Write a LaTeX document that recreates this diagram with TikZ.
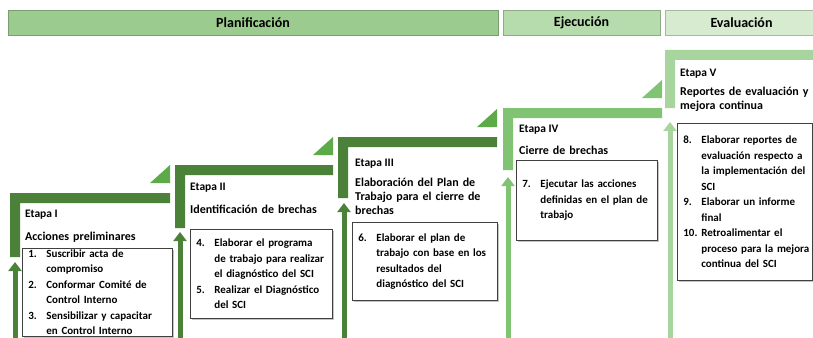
\documentclass[tikz,border=0pt]{standalone}
\usepackage{fontspec}
\setmainfont{Carlito}
\usetikzlibrary{arrows.meta, positioning, shadows}

\definecolor{verdeA}{HTML}{4B8139} % bars of the first three steps
\definecolor{verdeB}{HTML}{5DAA49} % wedges of the first three steps
\definecolor{verdeC}{HTML}{80C473} % step IV
\definecolor{verdeD}{HTML}{A8D49E} % step V
\definecolor{planif}{HTML}{9BCB8E}
\definecolor{ejec}{HTML}{B6DBAC}
\definecolor{evalu}{HTML}{D6EBD0}

\tikzset{
        x=1pt, y=-1pt, % one unit is one pixel of the sketch, y runs down
        fase/.style={draw=#1!78!black, line width=0.8pt, fill=#1, minimum height=25pt, inner sep=0pt,
          font=\fontsize{14}{16}\selectfont\bfseries}, % phase banners on top
        etiqueta/.style={anchor=base west, inner sep=0pt, font=\fontsize{11.5}{13}\selectfont\bfseries},
        subtitulo/.style={anchor=base west, inner sep=0pt, text width=140pt, align=left,
          font=\fontsize{12}{14}\selectfont\bfseries},
        tareas/.style={draw=black!75, line width=0.8pt, fill=white, anchor=north west, align=left,
          inner xsep=6pt, inner ysep=0pt, drop shadow={shadow xshift=1.2pt, shadow yshift=-1.2pt, fill=black!45},
          font=\fontsize{11}{15.5}\selectfont\bfseries}, % boxes with the activities
        flecha/.style={line width=5pt, -{Triangle[width=13pt,length=9pt]}},
    }

% one step: left, top, right, bottom of the post, colour
\newcommand{\escalon}[5]{%
  \fill[#5] (#1,#2) -- (#3,#2) -- (#3,#2+10) -- (#1+10,#2+10) -- (#1+10,#4) -- (#1,#4) -- cycle;}
% wedge over the right end of a step: right, top, colour
\newcommand{\cuna}[3]{%
  \fill[#3] (#1-20,#2-10) -- (#1,#2-10) -- (#1,#2-28) -- cycle;}
\newcommand{\nro}[2]{\makebox[18pt][l]{#1}\mbox{#2}} % numbered line of a box
\newcommand{\sangria}[1]{\hspace*{18pt}\mbox{#1}}   % following line, indented

\begin{document}
\begin{tikzpicture}
    \useasboundingbox (0,0) rectangle (813,337);
    \clip (0,0) rectangle (813,337);

    \node[fase=planif, minimum width=490pt] (planificacion) at (253,22.5) {Planificación};
    \node[fase=ejec, minimum width=157pt] (ejecucion) at (581.5,22.5) {Ejecución};
    \node[fase=evalu, minimum width=153pt] (evaluacion) at (741.5,22.5) {Evaluación};

    \escalon{10}{193}{170}{257}{verdeA} \cuna{170}{193}{verdeB}
    \escalon{175}{165}{333}{228}{verdeA} \cuna{333}{165}{verdeB}
    \escalon{338}{137}{497}{198}{verdeA} \cuna{497}{137}{verdeB}
    \escalon{503}{108}{662}{170}{verdeC} \cuna{662}{108}{verdeC}
    \escalon{665}{50}{813}{108}{verdeD}

    \coordinate (pie1) at (15,345);  \coordinate (punta1) at (15,262);
    \coordinate (pie2) at (180,345); \coordinate (punta2) at (180,232);
    \coordinate (pie3) at (344,345); \coordinate (punta3) at (344,203);
    \coordinate (pie4) at (508,345); \coordinate (punta4) at (508,177);
    \coordinate (pie5) at (670,345); \coordinate (punta5) at (670,122);
    \draw[flecha, verdeA] (pie1) -- (punta1);
    \draw[flecha, verdeA] (pie2) -- (punta2);
    \draw[flecha, verdeA] (pie3) -- (punta3);
    \draw[flecha, verdeC] (pie4) -- (punta4);
    \draw[flecha, verdeD] (pie5) -- (punta5);

    % Etapa I
    \node[etiqueta] (etapa1) at (25,217) {Etapa I};
    \node[subtitulo] (nombre1) at (25,240) {Acciones preliminares};
    \node[tareas, text width=138pt, minimum height=88pt] (tareas1) at (22,248)
      {\nro{1.}{Suscribir acta de}\\\sangria{compromiso}\\\nro{2.}{Conformar Comité de}\\\sangria{Control Interno}\\
       \nro{3.}{Sensibilizar y capacitar}\\\sangria{en Control Interno}};
    % Etapa II
    \node[etiqueta] (etapa2) at (190,190) {Etapa II};
    \node[subtitulo] (nombre2) at (190,213) {Identificación de brechas};
    \node[tareas, text width=130pt, minimum height=89pt] (tareas2) at (190,229)
      {\nro{4.}{Elaborar el programa}\\\sangria{de trabajo para realizar}\\\sangria{el diagnóstico del SCI}\\
       \nro{5.}{Realizar el Diagnóstico}\\\sangria{del SCI}};
    % Etapa III
    \node[etiqueta] (etapa3) at (355,166) {Etapa III};
    \node[subtitulo] (nombre3) at (355,186) {Elaboración del Plan de\\Trabajo para el cierre de\\brechas};
    \node[tareas, text width=133pt, minimum height=78pt] (tareas3) at (352,222)
      {\nro{6.}{Elaborar el plan de}\\\sangria{trabajo con base en los}\\\sangria{resultados del}\\\sangria{diagnóstico del SCI}};
    % Etapa IV
    \node[etiqueta] (etapa4) at (519,132) {Etapa IV};
    \node[subtitulo] (nombre4) at (519,154) {Cierre de brechas};
    \node[tareas, text width=129pt, minimum height=80pt] (tareas4) at (516,160)
      {\nro{7.}{Ejecutar las acciones}\\\sangria{definidas en el plan de}\\\sangria{trabajo}};
    % Etapa V
    \node[etiqueta] (etapa5) at (680,77) {Etapa V};
    \node[subtitulo] (nombre5) at (680,95) {Reportes de evaluación y\\mejora continua};
    \node[tareas, text width=123pt, minimum height=157pt] (tareas5) at (677,123)
      {\nro{8.}{Elaborar reportes de}\\\sangria{evaluación respecto a}\\\sangria{la implementación del}\\\sangria{SCI}\\
       \nro{9.}{Elaborar un informe}\\\sangria{final}\\\nro{10.}{Retroalimentar el}\\\sangria{proceso para la mejora}\\
       \sangria{continua del SCI}};
\end{tikzpicture}
\end{document}
